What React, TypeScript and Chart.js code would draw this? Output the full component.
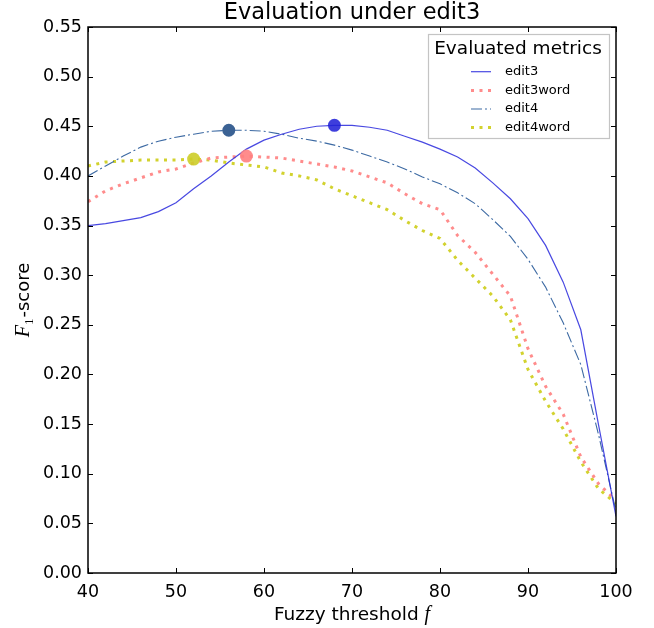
import React, { useEffect, useRef } from 'react';
import { Chart, registerables } from 'chart.js';

Chart.register(...registerables);

const thresholds = [40, 42, 44, 46, 48, 50, 52, 54, 56, 58, 60, 62, 64, 66, 68, 70, 72, 74, 76, 78, 80, 82, 84, 86, 88, 90, 92, 94, 96, 98, 100];
const edit3 = [0.350, 0.352, 0.355, 0.358, 0.364, 0.373, 0.387, 0.400, 0.414, 0.427, 0.436, 0.442, 0.447, 0.450, 0.451, 0.451, 0.449, 0.446, 0.440, 0.434, 0.427, 0.419, 0.408, 0.393, 0.377, 0.357, 0.330, 0.293, 0.245, 0.150, 0.057];
const edit3word = [0.374, 0.385, 0.392, 0.398, 0.404, 0.407, 0.413, 0.418, 0.419, 0.420, 0.419, 0.418, 0.415, 0.412, 0.409, 0.405, 0.399, 0.393, 0.382, 0.372, 0.366, 0.340, 0.323, 0.301, 0.279, 0.226, 0.188, 0.160, 0.117, 0.090, 0.073];
const edit4 = [0.400, 0.410, 0.420, 0.429, 0.435, 0.439, 0.442, 0.445, 0.446, 0.446, 0.445, 0.442, 0.438, 0.435, 0.431, 0.426, 0.420, 0.414, 0.407, 0.399, 0.392, 0.383, 0.372, 0.356, 0.339, 0.316, 0.288, 0.252, 0.210, 0.140, 0.062];
const edit4word = [0.410, 0.414, 0.415, 0.416, 0.416, 0.416, 0.417, 0.416, 0.413, 0.411, 0.409, 0.403, 0.400, 0.396, 0.387, 0.380, 0.373, 0.366, 0.355, 0.345, 0.337, 0.315, 0.297, 0.279, 0.255, 0.205, 0.173, 0.145, 0.112, 0.085, 0.070];

const seriesNames = ['edit3', 'edit3word', 'edit4', 'edit4word'];
const bestThreshold = [68, 58, 56, 52];
const bestScore = [0.451, 0.420, 0.446, 0.417];

const xTickValues = [40, 50, 60, 70, 80, 90, 100];

const titleText = 'Evaluation under edit3';
const legendTitle = 'Evaluated metrics';

const lineColors = ['rgba(40,40,220,0.85)', '#ff8c8c', '#3d6aa3', '#d2d22e'];
const markerColors = ['rgba(35,35,215,0.88)', 'rgba(255,128,128,0.9)', '#3b6294', 'rgba(205,205,40,0.9)'];
const lineWidths = [1.2, 3, 1.1, 3];
const lineDashes = [[], [3, 5.5], [11, 3, 2, 3], [3, 5.5]];

const SANS = '"DejaVu Sans", sans-serif';
const SERIF = '"Liberation Serif", "DejaVu Serif", serif';

export default function App() {
  const ref = useRef<HTMLCanvasElement | null>(null);

  useEffect(() => {
    document.body.style.margin = '0';
    const canvas = ref.current;
    if (!canvas) return;
    const series = [edit3, edit3word, edit4, edit4word];

    const lineSets = series.map((vals, i) => ({
      label: seriesNames[i],
      data: thresholds.map((x, j) => ({ x, y: vals[j] })),
      borderColor: lineColors[i],
      backgroundColor: lineColors[i],
      borderWidth: lineWidths[i],
      borderDash: lineDashes[i],
      borderCapStyle: 'butt' as const,
      pointRadius: 0,
      tension: 0,
      fill: false,
      order: 2,
    }));
    const markerSets = seriesNames.map((name, i) => ({
      label: name + ' best',
      data: [{ x: bestThreshold[i], y: bestScore[i] }],
      showLine: false,
      pointRadius: 6.5,
      pointBackgroundColor: markerColors[i],
      pointBorderColor: markerColors[i],
      pointBorderWidth: 0,
      backgroundColor: markerColors[i],
      borderColor: markerColors[i],
      order: 1,
    }));

    const decor = {
      id: 'decor',
      afterDatasetsDraw(chart: any) {
        const { ctx, chartArea } = chart;
        const { left, right, top, bottom } = chartArea;
        const xs = chart.scales.x;
        const ys = chart.scales.y;
        ctx.save();
        ctx.strokeStyle = '#000';
        ctx.lineWidth = 1;
        ctx.beginPath();
        ys.ticks.forEach((t: any) => {
          const py = Math.round(ys.getPixelForValue(t.value)) + 0.5;
          ctx.moveTo(left, py); ctx.lineTo(left + 5, py);
          ctx.moveTo(right, py); ctx.lineTo(right - 5, py);
        });
        xTickValues.forEach((v) => {
          const px = Math.round(xs.getPixelForValue(v)) + 0.5;
          ctx.moveTo(px, bottom); ctx.lineTo(px, bottom - 5);
          ctx.moveTo(px, top); ctx.lineTo(px, top + 5);
        });
        ctx.stroke();
        ctx.lineWidth = 1.5;
        ctx.strokeRect(left, top, right - left, bottom - top);
        ctx.restore();
      },
      afterDraw(chart: any) {
        const { ctx, chartArea } = chart;
        const { left, right, top, bottom } = chartArea;
        ctx.save();
        // Title
        ctx.fillStyle = '#000';
        ctx.font = `22.5px ${SANS}`;
        ctx.textAlign = 'center';
        ctx.textBaseline = 'alphabetic';
        ctx.fillText(titleText, (left + right) / 2, 19);

        // X axis title
        const xa = 'Fuzzy threshold ';
        ctx.font = `18.5px ${SANS}`;
        const w1 = ctx.measureText(xa).width;
        ctx.font = `italic 20px ${SERIF}`;
        const w2 = ctx.measureText('f').width;
        const sx = (left + right) / 2 - (w1 + w2) / 2;
        ctx.textAlign = 'left';
        ctx.font = `18.5px ${SANS}`;
        ctx.fillText(xa, sx, 620);
        ctx.font = `italic 20px ${SERIF}`;
        ctx.fillText('f', sx + w1, 620);

        // Y axis title
        ctx.save();
        ctx.translate(29, (top + bottom) / 2);
        ctx.rotate(-Math.PI / 2);
        ctx.font = `italic 20px ${SERIF}`;
        const fw = ctx.measureText('F').width;
        ctx.font = `13px ${SERIF}`;
        const sw = ctx.measureText('1').width;
        ctx.font = `18px ${SANS}`;
        const rw = ctx.measureText('-score').width;
        const yx = -(fw + sw + 1 + rw) / 2;
        ctx.textAlign = 'left';
        ctx.font = `italic 20px ${SERIF}`;
        ctx.fillText('F', yx, 0);
        ctx.font = `13px ${SERIF}`;
        ctx.fillText('1', yx + fw, 4);
        ctx.font = `18px ${SANS}`;
        ctx.fillText('-score', yx + fw + sw + 1, 0);
        ctx.restore();

        // Legend
        const bx = 428.5, by = 34.5, bw = 181, bh = 104;
        ctx.fillStyle = '#fff';
        ctx.fillRect(bx, by, bw, bh);
        ctx.strokeStyle = '#c4c4c4';
        ctx.lineWidth = 1.2;
        ctx.strokeRect(bx, by, bw, bh);
        ctx.fillStyle = '#000';
        ctx.font = `18.5px ${SANS}`;
        ctx.textAlign = 'center';
        ctx.textBaseline = 'middle';
        ctx.fillText(legendTitle, 518, 49);
        const itemY = [71.7, 90.5, 109, 127.5];
        seriesNames.forEach((name, i) => {
          ctx.save();
          ctx.strokeStyle = lineColors[i];
          ctx.lineWidth = lineWidths[i];
          ctx.setLineDash(lineDashes[i]);
          ctx.lineCap = 'butt';
          ctx.beginPath();
          ctx.moveTo(471, itemY[i]);
          ctx.lineTo(491, itemY[i]);
          ctx.stroke();
          ctx.restore();
          ctx.fillStyle = '#000';
          ctx.font = `13px ${SANS}`;
          ctx.textAlign = 'left';
          ctx.textBaseline = 'middle';
          ctx.fillText(name, 505, itemY[i]);
        });
        ctx.restore();
      },
    };

    const chart = new Chart(canvas, {
      type: 'line',
      data: { datasets: [...lineSets, ...markerSets] as any },
      options: {
        responsive: false,
        animation: false,
        devicePixelRatio: 1,
        layout: { padding: { top: 27, right: 38, left: 0, bottom: 0 } },
        plugins: {
          legend: { display: false },
          title: { display: false },
          tooltip: { enabled: false },
        },
        scales: {
          x: {
            type: 'linear',
            min: 40,
            max: 100,
            grid: { display: false, drawTicks: false },
            border: { display: false },
            afterFit: (s: any) => { s.height = 55; },
            afterBuildTicks: (s: any) => { s.ticks = xTickValues.map((v) => ({ value: v })); },
            ticks: {
              color: '#000',
              font: { family: SANS, size: 17.5 },
              padding: 9,
              maxRotation: 0,
              autoSkip: false,
              callback: (v: any) => String(v),
            },
          },
          y: {
            type: 'linear',
            min: 0,
            max: 0.55,
            grid: { display: false, drawTicks: false },
            border: { display: false },
            afterFit: (s: any) => { s.width = 88; },
            ticks: {
              stepSize: 0.05,
              color: '#000',
              font: { family: SANS, size: 17.5 },
              padding: 6,
              autoSkip: false,
              callback: (v: any) => Number(v).toFixed(2),
            },
          },
        },
      },
      plugins: [decor],
    });
    return () => chart.destroy();
  }, []);

  return <canvas ref={ref} width={654} height={628} style={{ display: 'block' }} />;
}
